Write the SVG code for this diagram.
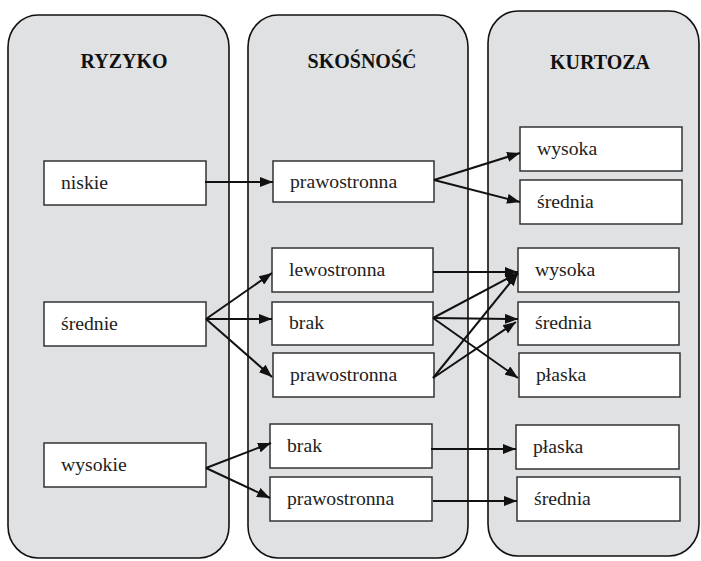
<svg xmlns="http://www.w3.org/2000/svg" width="701" height="561" viewBox="0 0 701 561">
<style>
.col{fill:#e0e1e3;stroke:#111;stroke-width:1.6}
.box{fill:#fff;stroke:#333;stroke-width:1.5}
.t{font-family:"Liberation Serif","Times New Roman",serif;font-size:19.7px;fill:#222}
.h{font-family:"Liberation Serif","Times New Roman",serif;font-size:20px;font-weight:bold;fill:#111;text-anchor:middle}
.c{stroke:#111;stroke-width:2;fill:none;marker-end:url(#ah)}
</style>
<defs>
<marker id="ah" markerWidth="13" markerHeight="10" refX="13" refY="5" orient="auto" markerUnits="userSpaceOnUse">
<path d="M0,0 L13,5 L0,10 z" fill="#111"/>
</marker>
</defs>
<rect width="701" height="561" fill="#fff"/>
<g id="col-ryzyko"><rect class="col" x="8" y="15" width="221" height="543" rx="30" ry="32"/><text class="h" x="124" y="68">RYZYKO</text></g>
<g id="col-skosnosc"><rect class="col" x="248" y="15" width="220" height="543" rx="30" ry="32"/><text class="h" x="362" y="68">SKOŚNOŚĆ</text></g>
<g id="col-kurtoza"><rect class="col" x="488" y="11" width="211" height="545" rx="30" ry="32"/><text class="h" x="600" y="69">KURTOZA</text></g>

<g id="n-niskie"><rect class="box" x="44" y="161" width="162" height="44"/><text class="t" x="61" y="189">niskie</text></g>
<g id="n-srednie"><rect class="box" x="44" y="302" width="162" height="44"/><text class="t" x="61" y="330">średnie</text></g>
<g id="n-wysokie"><rect class="box" x="44" y="443" width="162" height="44"/><text class="t" x="61" y="471">wysokie</text></g>

<g id="s-prawo1"><rect class="box" x="273" y="161" width="161" height="41"/><text class="t" x="290" y="188">prawostronna</text></g>
<g id="s-lewo"><rect class="box" x="272" y="248" width="161" height="44"/><text class="t" x="289" y="276">lewostronna</text></g>
<g id="s-brak1"><rect class="box" x="272" y="302" width="161" height="43"/><text class="t" x="289" y="329">brak</text></g>
<g id="s-prawo2"><rect class="box" x="273" y="353" width="161" height="44"/><text class="t" x="290" y="381">prawostronna</text></g>
<g id="s-brak2"><rect class="box" x="270" y="424" width="162" height="44"/><text class="t" x="287" y="452">brak</text></g>
<g id="s-prawo3"><rect class="box" x="270" y="477" width="162" height="44"/><text class="t" x="287" y="505">prawostronna</text></g>

<g id="k-wysoka1"><rect class="box" x="520" y="127" width="162" height="44"/><text class="t" x="537" y="155">wysoka</text></g>
<g id="k-srednia1"><rect class="box" x="520" y="180" width="162" height="44"/><text class="t" x="537" y="208">średnia</text></g>
<g id="k-wysoka2"><rect class="box" x="518" y="248" width="161" height="44"/><text class="t" x="535" y="276">wysoka</text></g>
<g id="k-srednia2"><rect class="box" x="518" y="302" width="161" height="43"/><text class="t" x="535" y="329">średnia</text></g>
<g id="k-plaska1"><rect class="box" x="519" y="353" width="161" height="44"/><text class="t" x="536" y="381">płaska</text></g>
<g id="k-plaska2"><rect class="box" x="516" y="425" width="163" height="44"/><text class="t" x="533" y="453">płaska</text></g>
<g id="k-srednia3"><rect class="box" x="517" y="477" width="163" height="44"/><text class="t" x="534" y="505">średnia</text></g>

<g id="connectors">
<path class="c" d="M205,182 L273,182"/>
<path class="c" d="M434,180 L520,153"/>
<path class="c" d="M434,180 L520,202"/>
<path class="c" d="M206,319 L272,273"/>
<path class="c" d="M206,319 L272,319"/>
<path class="c" d="M206,319 L272,377"/>
<path class="c" d="M433,272 L518,272"/>
<path class="c" d="M433,318 L518,273"/>
<path class="c" d="M433,318 L518,319"/>
<path class="c" d="M433,318 L518,378"/>
<path class="c" d="M433,378 L518,273"/>
<path class="c" d="M433,378 L516,322"/>
<path class="c" d="M206,468 L271,443"/>
<path class="c" d="M206,468 L270,498"/>
<path class="c" d="M431,449 L516,449"/>
<path class="c" d="M433,501 L517,501"/>
</g>
</svg>
